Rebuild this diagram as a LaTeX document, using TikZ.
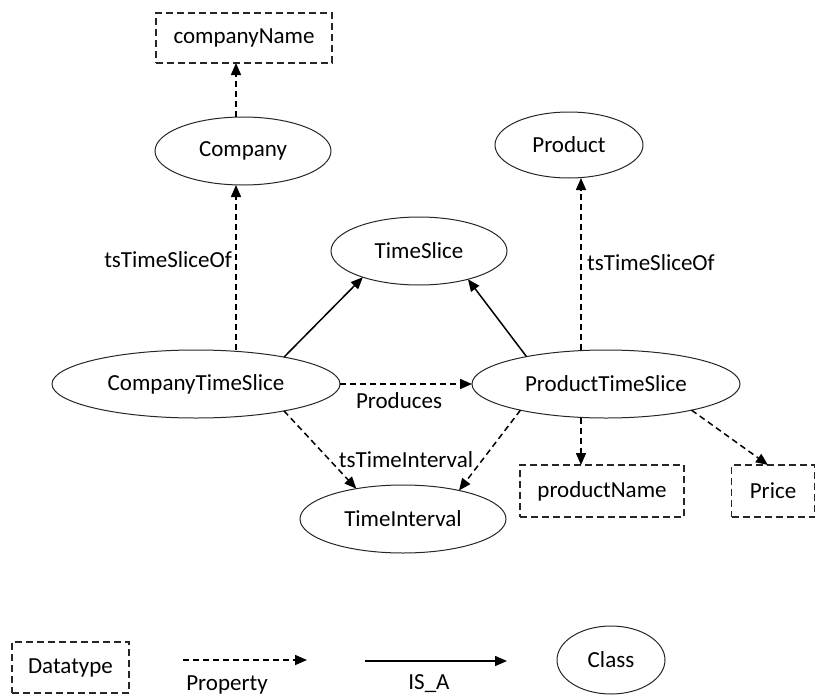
\documentclass[tikz,border=0pt]{standalone}
\usepackage{fontspec}
\setmainfont{Carlito}
\usetikzlibrary{shapes.geometric,arrows.meta}
\begin{document}
\begin{tikzpicture}[x=1pt,y=-1pt,
  font=\fontsize{23}{27}\selectfont,
  cls/.style={ellipse,draw=black!85,line width=1pt,inner sep=0pt,outer sep=0pt},
  dtype/.style={rectangle,draw=black!85,line width=1.3pt,dash pattern=on 7pt off 4pt,inner sep=0pt,outer sep=0pt},
  tip/.style={-{Triangle[length=12pt,width=10pt]}},
  prop/.style={tip,line width=1.5pt,dash pattern=on 6pt off 4pt},
  isa/.style={tip,line width=1.5pt},
  lbl/.style={inner sep=0pt}
]
\useasboundingbox (0,0) rectangle (816,696);

% classes
\node[cls,minimum width=176,minimum height=68] (company) at (243,151) {Company};
\node[cls,minimum width=148,minimum height=66] (product) at (569,145) {Product};
\node[cls,minimum width=176,minimum height=68] (ts) at (419,251) {TimeSlice};
\node[cls,minimum width=288,minimum height=68] (cts) at (196,384) {CompanyTimeSlice};
\node[cls,minimum width=268,minimum height=68] (pts) at (606,384) {ProductTimeSlice};
\node[cls,minimum width=206,minimum height=68] (ti) at (403,519) {TimeInterval};

% datatypes
\node[dtype,minimum width=176,minimum height=50] (cn) at (244,38) {companyName};
\node[dtype,minimum width=164,minimum height=52] (pn) at (602,491) {productName};
\node[dtype,minimum width=83,minimum height=52] (price) at (773,491) {Price};

% connectors
\draw[prop] ([xshift=-7pt]company.north) -- ([xshift=-8pt]cn.south);
\draw[prop] ([xshift=40pt]cts.north) -- ([xshift=-7pt]company.south);
\draw[prop] ([xshift=-25pt]pts.north) -- ([xshift=12pt]product.south);
\draw[isa] (cts.17) -- (ts.205);
\draw[isa] (pts.161) -- (ts.-30);
\draw[prop] (cts.east) -- (pts.west);
\draw[prop] (cts.-17) -- (ti.147);
\draw[prop] (pts.197) -- (ti.27);
\draw[prop] ([xshift=-25pt]pts.south) -- ([xshift=-21pt]pn.north);
\draw[prop] (pts.-17) -- ([xshift=-5pt]price.north);

% edge labels
\node[lbl,anchor=east] (l1) at (232,260) {tsTimeSliceOf};
\node[lbl,anchor=west] (l2) at (587,263) {tsTimeSliceOf};
\node[lbl] (lprod) at (399,401) {Produces};
\node[lbl] (lti) at (406,460) {tsTimeInterval};

% legend
\node[dtype,minimum width=117,minimum height=51] (legdt) at (70.5,667.5) {Datatype};
\coordinate (pa) at (183,660);
\coordinate (pb) at (307,660);
\draw[prop] (pa) -- (pb);
\node[lbl] (lprop) at (227,685) {Property};
\coordinate (ia) at (365,661);
\coordinate (ib) at (507,661);
\draw[isa] (ia) -- (ib);
\node[lbl] (lisa) at (429,684) {IS\_A};
\node[cls,minimum width=108,minimum height=68] (legcls) at (611,660) {Class};
\end{tikzpicture}
\end{document}
